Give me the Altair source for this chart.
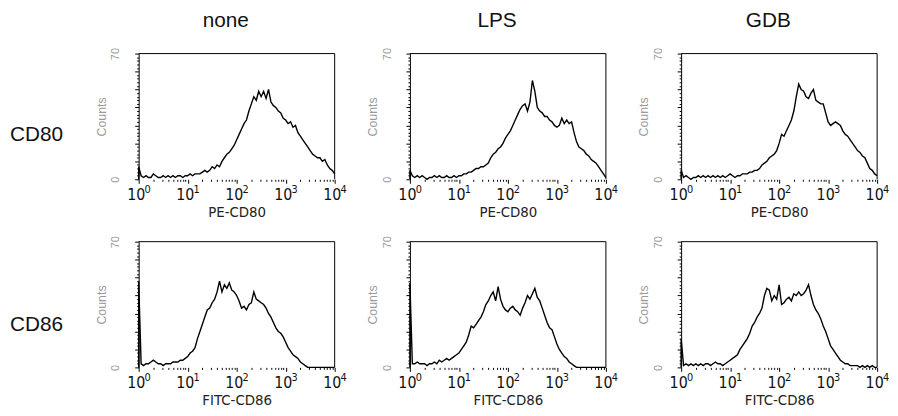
import altair as alt
import pandas as pd
import numpy as np

# fluorescence channel positions, in decades (10^0 .. 10^4)
DECADES = [round(i * 0.05, 2) for i in range(81)]

NONE_CD80 = [7, 2, 1, 2, 1, 1, 3, 2, 1, 1,
             2, 1, 2, 1, 2, 1, 2, 2, 1, 2,
             2, 3, 2, 3, 3, 3, 4, 5, 4, 5,
             7, 6, 8, 7, 10, 12, 14, 15, 17, 19,
             22, 25, 28, 31, 33, 38, 42, 46, 44, 49,
             46, 49, 45, 50, 43, 41, 40, 38, 37, 34,
             33, 31, 32, 29, 30, 26, 24, 22, 20, 18,
             16, 14, 13, 12, 12, 10, 11, 8, 6, 5,
             3]
LPS_CD80 = [5, 2, 1, 2, 1, 2, 1, 0, 1, 1,
            2, 1, 2, 1, 1, 2, 1, 1, 2, 1,
            2, 2, 3, 3, 4, 4, 5, 6, 6, 7,
            7, 8, 9, 12, 14, 15, 17, 18, 20, 23,
            25, 27, 30, 33, 36, 39, 41, 42, 38, 43,
            55, 49, 40, 38, 37, 35, 35, 33, 32, 30,
            29, 30, 34, 31, 33, 31, 32, 26, 21, 18,
            17, 16, 14, 13, 11, 10, 9, 7, 5, 3,
            1]
GDB_CD80 = [5, 1, 2, 1, 0, 1, 1, 2, 1, 2,
            1, 2, 1, 2, 1, 2, 1, 2, 1, 2,
            3, 2, 1, 2, 2, 3, 3, 3, 4, 4,
            5, 5, 6, 8, 9, 10, 12, 13, 14, 16,
            20, 25, 24, 27, 30, 33, 38, 46, 53, 50,
            49, 46, 45, 48, 50, 44, 43, 42, 42, 37,
            32, 30, 31, 32, 31, 30, 27, 25, 24, 22,
            20, 18, 16, 15, 13, 12, 9, 6, 5, 3,
            2]
NONE_CD86 = [48, 2, 1, 2, 2, 3, 4, 3, 2, 2,
             1, 2, 2, 2, 3, 3, 3, 4, 4, 5,
             6, 8, 9, 11, 16, 20, 24, 28, 32, 33,
             36, 38, 42, 48, 42, 46, 44, 47, 43, 42,
             40, 37, 33, 34, 32, 35, 36, 42, 38, 37,
             36, 35, 33, 30, 28, 25, 22, 20, 19, 17,
             14, 11, 9, 7, 6, 5, 3, 2, 1, 0,
             0, 0, 0, 0, 0, 0, 0, 0, 0, 0,
             0]
LPS_CD86 = [47, 2, 2, 3, 2, 2, 2, 1, 2, 2,
            3, 2, 4, 3, 4, 5, 4, 5, 6, 7,
            8, 10, 12, 14, 18, 23, 22, 24, 26, 28,
            31, 35, 37, 40, 42, 37, 45, 38, 34, 32,
            31, 33, 34, 32, 31, 29, 33, 36, 40, 38,
            41, 44, 39, 37, 33, 29, 25, 22, 21, 17,
            13, 10, 8, 6, 5, 3, 2, 1, 0, 0,
            0, 0, 0, 0, 0, 0, 0, 0, 0, 0,
            0]
GDB_CD86 = [16, 1, 2, 1, 2, 1, 2, 1, 2, 1,
            2, 2, 1, 2, 3, 2, 2, 1, 2, 3,
            4, 5, 6, 7, 10, 12, 14, 16, 19, 23,
            25, 28, 30, 33, 40, 44, 43, 37, 40, 38,
            46, 35, 36, 38, 39, 37, 41, 40, 42, 40,
            41, 43, 46, 40, 35, 32, 30, 27, 23, 20,
            16, 12, 10, 8, 6, 4, 3, 2, 2, 1,
            1, 1, 1, 0, 1, 0, 1, 0, 1, 0,
            0]

COLUMNS = ["none", "LPS", "GDB"]
ROWS = ["CD80", "CD86"]
X_TITLES = ["PE-CD80", "FITC-CD86"]
SERIES = [[NONE_CD80, LPS_CD80, GDB_CD80],
          [NONE_CD86, LPS_CD86, GDB_CD86]]
MAJOR = [0, 1, 2, 3, 4]
EXPONENTS = ["0", "1", "2", "3", "4"]
Y_MAX = 70

W, H = 198, 127
LABEL_W = 56
COL_GAP = 76
ROW_GAP = 63
FONT = "Liberation Sans"
TICKFONT = "DejaVu Sans Condensed, Liberation Sans"

minor = [round(d + float(np.log10(k)), 5) for d in range(4) for k in range(2, 10)]
x_ticks = sorted(MAJOR + minor)


def panel(r, c):
    vals = SERIES[r][c]
    df = pd.DataFrame({"x": [0.0] + DECADES, "count": [0] + vals,
                       "i": list(range(len(vals) + 1))})
    xscale = alt.Scale(domain=[0, 4], nice=False, zero=False)
    xaxis = alt.Axis(
        values=x_ticks,
        labelExpr="datum.value % 1 === 0 ? '10' : ''",
        domain=False, grid=False,
        tickSize={"condition": {"test": "datum.value % 1 === 0", "value": 4}, "value": 2},
        tickColor="black", tickWidth=1,
        labelFont=TICKFONT, labelFontSize=16, labelColor="#111",
        labelPadding=3, labelOffset=-3, labelFlush=False, labelOverlap=False,
        title=X_TITLES[r], titleFont=TICKFONT, titleFontSize=15,
        titleFontWeight="normal", titleColor="#222",
        titlePadding=3,
    )
    yaxis = alt.Axis(
        values=list(range(0, Y_MAX + 1, 2)),
        labelExpr="datum.value === 0 || datum.value === 70 ? datum.label : ''",
        tickSize={"condition": {"test": "datum.value % 10 === 0", "value": 4}, "value": 2},
        domain=True, domainColor="black", tickColor="black", grid=False,
        labelAngle=270, labelColor="#9a9a9a", labelFont=FONT, labelFontSize=11,
        labelPadding=14, labelOverlap=False,
        title="Counts", titleColor="#9a9a9a", titleFont=FONT, titleFontSize=12.5,
        titleFontWeight="normal", titlePadding=2,
    )
    line = alt.Chart(df).mark_line(color="black", strokeWidth=1.4).encode(
        x=alt.X("x:Q", scale=xscale, axis=xaxis),
        y=alt.Y("count:Q", scale=alt.Scale(domain=[0, Y_MAX], nice=False), axis=yaxis),
        order="i:Q",
    )
    exps = alt.Chart(pd.DataFrame({"x": MAJOR, "e": EXPONENTS})).mark_text(
        font=TICKFONT, fontSize=11, align="left", baseline="top", color="#111", dx=6
    ).encode(x=alt.X("x:Q", scale=xscale, axis=xaxis), y=alt.value(H + 5), text="e:N")
    one = pd.DataFrame({"a": [0]})
    top = alt.Chart(one).mark_rule(color="black", strokeWidth=1).encode(
        x=alt.value(0), x2=alt.value(W), y=alt.value(0))
    right = alt.Chart(one).mark_rule(color="black", strokeWidth=1).encode(
        x=alt.value(W), y=alt.value(0), y2=alt.value(H))
    layers = [line, exps, top, right]
    if r == 0:
        title = alt.Chart(pd.DataFrame({"t": [COLUMNS[c]]})).mark_text(
            font=FONT, fontSize=21, align="center", baseline="middle", color="#111"
        ).encode(text="t:N", x=alt.value(W / 2 - 11), y=alt.value(-33))
        layers.append(title)
    return alt.layer(*layers).properties(width=W, height=H)


def row_label(txt, y):
    return alt.Chart(pd.DataFrame({"t": [txt]})).mark_text(
        font=FONT, fontSize=21, align="left", baseline="middle", color="#111"
    ).encode(text="t:N", x=alt.value(2), y=alt.value(y)).properties(width=LABEL_W, height=H)


cells = []
for r, rname in enumerate(ROWS):
    cells.append(row_label(rname, 82 if r == 0 else 84))
    cells.extend(panel(r, c) for c in range(3))

chart = alt.concat(
    *cells, columns=4, bounds="flush",
    spacing=alt.RowColnumber(row=ROW_GAP, column=COL_GAP),
).properties(padding=0, background="white").configure_view(stroke=None)

chart.save("out.html", embed_options={"renderer": "svg", "actions": False})
